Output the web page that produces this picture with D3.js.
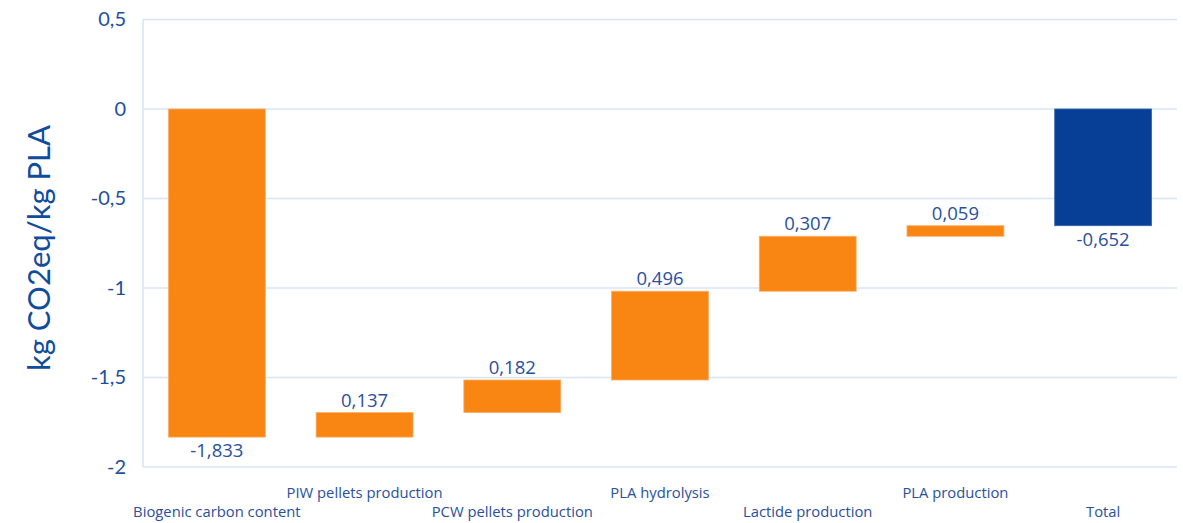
<!DOCTYPE html>
<html>
<head>
<meta charset="utf-8">
<script src="https://cdn.jsdelivr.net/npm/d3@7/dist/d3.min.js"></script>
<style>
  html, body { margin: 0; padding: 0; background: #ffffff; }
  svg { display: block; font-family: "Open Sans", Lato, sans-serif; }
</style>
</head>
<body>
<svg id="chart" width="1183" height="523"></svg>
<script>
// Waterfall steps: contribution of each stage to the PLA footprint
const categories = [
  "Biogenic carbon content",
  "PIW pellets production",
  "PCW pellets production",
  "PLA hydrolysis",
  "Lactide production",
  "PLA production",
  "Total"
];
const stepValues = [-1.833, 0.137, 0.182, 0.496, 0.307, 0.059];
const totalValue = -0.652;
const valueLabels = ["-1,833", "0,137", "0,182", "0,496", "0,307", "0,059", "-0,652"];
const yTicks = [0.5, 0, -0.5, -1, -1.5, -2];
const yTickLabels = ["0,5", "0", "-0,5", "-1", "-1,5", "-2"];
const axisTitle = "kg CO2eq/kg PLA";

// Build floating segments from the running sum
let running = 0;
const segments = stepValues.map((v, i) => {
  const start = running;
  running += v;
  return { cat: categories[i], start, end: running, value: v, label: valueLabels[i], total: false };
});
segments.push({ cat: categories[6], start: 0, end: totalValue, value: totalValue, label: valueLabels[6], total: true });

const svg = d3.select("#chart");
const margin = { left: 143, right: 6, top: 19.5, bottom: 56 };
const W = 1183, H = 523;

const x = d3.scaleBand()
  .domain(categories)
  .range([margin.left, W - margin.right])
  .paddingInner(0.344)
  .paddingOuter(0.172);

const y = d3.scaleLinear()
  .domain([-2, 0.5])
  .range([467, margin.top]);

const gridColor = "#d7e5f8";
const textBlue = "#2a4f9c";

// Horizontal gridlines
svg.append("g")
  .selectAll("line")
  .data(yTicks)
  .join("line")
  .attr("x1", margin.left)
  .attr("x2", W - margin.right)
  .attr("y1", d => y(d))
  .attr("y2", d => y(d))
  .attr("stroke", gridColor)
  .attr("stroke-width", 1.6);

// Left frame edge
svg.append("line")
  .attr("x1", margin.left).attr("x2", margin.left)
  .attr("y1", y(0.5)).attr("y2", y(-2))
  .attr("stroke", gridColor).attr("stroke-width", 1.6);

// Y axis tick labels
const yAxis = d3.axisLeft(y)
  .tickValues(yTicks)
  .tickFormat((d, i) => yTickLabels[i])
  .tickSize(0)
  .tickPadding(17);
const yg = svg.append("g").attr("transform", `translate(${margin.left},0)`).call(yAxis);
yg.select(".domain").remove();
yg.selectAll("text")
  .attr("fill", "#1d4f9e")
  .attr("font-size", 20)
  .attr("font-family", "Lato, 'Open Sans', sans-serif");

// Axis title
svg.append("text")
  .attr("transform", `translate(50,248) rotate(-90)`)
  .attr("text-anchor", "middle")
  .attr("fill", "#0f4c9c")
  .attr("font-size", 31)
  .attr("font-family", "Lato, 'Open Sans', sans-serif")
  .text(axisTitle);

// Bars
svg.append("g")
  .selectAll("rect")
  .data(segments)
  .join("rect")
  .attr("x", d => x(d.cat))
  .attr("width", x.bandwidth())
  .attr("y", d => y(Math.max(d.start, d.end)))
  .attr("height", d => Math.abs(y(d.start) - y(d.end)))
  .attr("fill", d => d.total ? "#063f95" : "#f98512")
  .attr("stroke", d => d.total ? "#3a64aa" : "#fcae6a")
  .attr("stroke-width", 0.8);

// Value labels: above rising steps, below falling ones
svg.append("g")
  .selectAll("text")
  .data(segments)
  .join("text")
  .attr("x", d => x(d.cat) + x.bandwidth() / 2)
  .attr("y", d => d.value >= 0 ? y(d.end) - 6 : y(d.end) + 20)
  .attr("text-anchor", "middle")
  .attr("fill", textBlue)
  .attr("font-size", 18.5)
  .text(d => d.label);

// Category labels, staggered in two rows
svg.append("g")
  .selectAll("text")
  .data(categories)
  .join("text")
  .attr("x", d => x(d) + x.bandwidth() / 2)
  .attr("y", (d, i) => i % 2 === 0 ? 517 : 498)
  .attr("text-anchor", "middle")
  .attr("fill", textBlue)
  .attr("font-size", 14.8)
  .text(d => d);
</script>
</body>
</html>
